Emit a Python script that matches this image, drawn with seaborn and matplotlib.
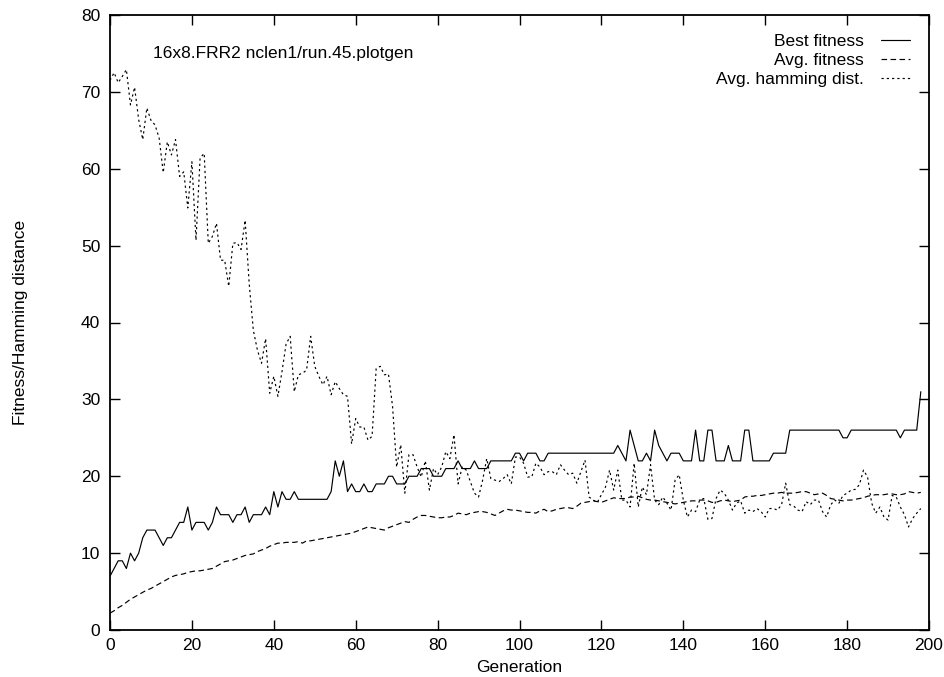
import numpy as np
import pandas as pd
import matplotlib
matplotlib.use("Agg")
import matplotlib.pyplot as plt
import seaborn as sns

# ---- data ----
generation = list(range(199))

best_fitness = [
    7, 8, 9, 9, 8, 10, 9, 10, 12, 13, 13, 13, 12, 11, 12, 12, 13, 14, 14, 16,
    13, 14, 14, 14, 13, 14, 16, 15, 15, 15, 14, 15, 15, 16, 14, 15, 15, 15, 16, 15,
    18, 16, 18, 17, 17, 18, 17, 17, 17, 17, 17, 17, 17, 17, 18, 22, 20, 22, 18, 19,
    18, 18, 19, 18, 18, 19, 19, 19, 20, 20, 19, 19, 19, 20, 20, 20, 21, 21, 21, 20,
    20, 20, 21, 21, 21, 22, 21, 21, 21, 22, 21, 21, 21, 22, 22, 22, 22, 22, 22, 23,
    23, 22, 23, 23, 23, 22, 22, 23, 23, 23, 23, 23, 23, 23, 23, 23, 23, 23, 23, 23,
    23, 23, 23, 23, 24, 23, 22, 26, 24, 22, 22, 23, 22, 26, 24, 23, 22, 23, 23, 23,
    22, 22, 22, 26, 22, 22, 26, 26, 22, 22, 22, 24, 22, 22, 22, 26, 26, 22, 22, 22,
    22, 22, 23, 23, 23, 23, 26, 26, 26, 26, 26, 26, 26, 26, 26, 26, 26, 26, 26, 25,
    25, 26, 26, 26, 26, 26, 26, 26, 26, 26, 26, 26, 26, 25, 26, 26, 26, 26, 31,
]

avg_fitness = [
    2.2, 2.5, 2.9, 3.2, 3.6, 4.0, 4.3, 4.6, 4.9, 5.2, 5.4, 5.7, 6.0, 6.3, 6.6, 6.9, 7.1, 7.2, 7.3, 7.5,
    7.6, 7.7, 7.7, 7.8, 7.9, 8.0, 8.3, 8.6, 8.9, 9.0, 9.1, 9.3, 9.5, 9.7, 9.8, 9.9, 10.2, 10.4, 10.6, 10.9,
    11.1, 11.3, 11.3, 11.4, 11.4, 11.4, 11.5, 11.3, 11.6, 11.6, 11.7, 11.8, 11.9, 12.0, 12.1, 12.2, 12.3, 12.4, 12.5, 12.6,
    12.8, 13.0, 13.2, 13.4, 13.3, 13.2, 13.1, 13.0, 13.3, 13.5, 13.7, 13.9, 14.1, 14.0, 14.4, 14.7, 14.9, 14.9, 14.8, 14.7,
    14.6, 14.6, 14.7, 14.7, 14.9, 15.2, 15.1, 15.0, 15.2, 15.3, 15.4, 15.4, 15.3, 15.1, 14.9, 15.2, 15.5, 15.7, 15.6, 15.6,
    15.5, 15.4, 15.3, 15.3, 15.2, 15.5, 15.7, 15.4, 15.5, 15.7, 15.8, 15.9, 15.9, 15.8, 16.1, 16.5, 16.6, 16.7, 16.8, 16.7,
    16.6, 16.8, 17.0, 17.2, 17.1, 17.1, 17.1, 17.3, 17.3, 17.4, 17.2, 17.0, 16.9, 16.9, 16.8, 16.7, 16.6, 16.5, 16.4, 16.5,
    16.6, 16.7, 16.8, 16.8, 16.9, 16.9, 16.8, 16.6, 16.6, 16.8, 16.9, 16.8, 16.7, 16.8, 16.9, 17.3, 17.4, 17.4, 17.5, 17.5,
    17.6, 17.7, 17.8, 17.8, 17.9, 17.8, 17.8, 17.8, 17.9, 18.0, 18.0, 17.8, 17.6, 17.7, 17.8, 17.5, 17.1, 17.0, 16.9, 16.8,
    16.9, 16.9, 17.0, 17.1, 17.2, 17.4, 17.5, 17.6, 17.6, 17.6, 17.7, 17.7, 17.6, 17.6, 17.7, 18.0, 17.9, 17.8, 17.9,
]

avg_hamming = [
    71.5, 72.5, 71.2, 72.0, 72.9, 68.3, 70.6, 66.4, 63.8, 67.9, 66.3, 65.7, 64.0, 59.5, 63.5, 61.8, 63.8, 59.0, 59.6, 54.9,
    60.9, 50.7, 61.4, 62.0, 50.3, 51.2, 52.9, 48.1, 48.1, 44.7, 50.3, 50.4, 49.5, 53.3, 45.0, 39.0, 36.4, 34.7, 37.9, 30.8,
    33.0, 30.4, 33.6, 37.2, 38.2, 31.0, 33.2, 33.4, 33.8, 38.2, 34.3, 33.0, 31.9, 33.0, 30.6, 32.3, 31.4, 30.6, 30.4, 24.2,
    27.5, 26.4, 26.4, 24.7, 25.2, 34.0, 34.3, 33.2, 33.3, 29.1, 21.2, 24.1, 17.8, 22.8, 22.8, 21.2, 19.9, 22.0, 18.2, 21.0,
    20.2, 21.2, 23.2, 22.3, 25.4, 19.0, 21.2, 20.8, 19.3, 17.8, 17.3, 19.5, 22.3, 19.7, 19.5, 19.3, 19.7, 20.2, 19.0, 22.5,
    22.5, 21.7, 19.9, 19.9, 21.7, 21.2, 20.2, 20.6, 20.6, 20.2, 21.5, 20.8, 20.2, 20.4, 19.1, 20.6, 22.1, 17.3, 16.9, 16.6,
    17.6, 18.6, 20.8, 18.2, 20.8, 16.9, 16.9, 16.0, 21.7, 16.0, 18.6, 17.6, 21.5, 16.9, 16.3, 17.3, 16.5, 15.6, 19.5, 20.2,
    16.9, 14.7, 15.6, 15.4, 16.9, 17.1, 14.4, 14.5, 17.1, 18.2, 17.8, 16.9, 15.6, 16.5, 16.8, 15.2, 15.6, 15.4, 15.8, 15.4,
    14.7, 15.8, 15.8, 15.6, 16.3, 19.1, 16.3, 16.1, 15.6, 15.4, 16.7, 16.3, 16.9, 16.9, 15.4, 14.7, 16.3, 16.9, 16.5, 17.5,
    17.8, 18.2, 18.3, 18.9, 20.8, 19.9, 16.5, 15.2, 16.0, 14.7, 14.3, 17.5, 17.3, 16.0, 15.0, 13.4, 14.5, 15.2, 15.8,
]

series_labels = ["Best fitness", "Avg. fitness", "Avg. hamming dist."]
x_ticks = [0, 20, 40, 60, 80, 100, 120, 140, 160, 180, 200]
y_ticks = [0, 10, 20, 30, 40, 50, 60, 70, 80]
title_text = "16x8.FRR2 nclen1/run.45.plotgen"

# ---- plotting ----
sns.set_theme(style="ticks")
plt.rcParams["font.family"] = ["Liberation Sans", "DejaVu Sans"]
plt.rcParams["lines.scale_dashes"] = False
for k in ["text.color", "axes.labelcolor", "xtick.color", "ytick.color",
          "xtick.labelcolor", "ytick.labelcolor", "axes.edgecolor"]:
    plt.rcParams[k] = "black"

FS = 12.5
fig = plt.figure(figsize=(9.45, 6.77), dpi=100)
ax = fig.add_axes([110 / 945, 1 - 630 / 677, (929 - 110) / 945, (630 - 15) / 677])

df = pd.DataFrame({
    "Generation": generation,
    series_labels[0]: best_fitness,
    series_labels[1]: avg_fitness,
    series_labels[2]: avg_hamming,
})

styles = ["-", (0, (4.0, 2.5)), (0, (1.6, 2.2))]
for lab, ls in zip(series_labels, styles):
    sns.lineplot(data=df, x="Generation", y=lab, ax=ax, color="black",
                 linewidth=0.85, linestyle=ls, label=lab)

ax.set_xlim(0, 200)
ax.set_ylim(0, 80)
ax.set_xticks(x_ticks)
ax.set_yticks(y_ticks)
ax.set_xticklabels([str(t) for t in x_ticks], fontsize=FS, color="black")
ax.set_yticklabels([str(t) for t in y_ticks], fontsize=FS, color="black")
ax.tick_params(direction="in", length=7, width=1.0, top=True, right=True,
               color="black", pad=7)
ax.tick_params(axis="x", pad=6)
for sp in ax.spines.values():
    sp.set_visible(True)
    sp.set_linewidth(1.3)
    sp.set_color("black")

ax.set_xlabel("Generation", fontsize=FS, labelpad=5, color="black")
ax.set_ylabel("Fitness/Hamming distance", fontsize=FS, labelpad=38, color="black")

ax.text(0.052, 0.937, title_text, transform=ax.transAxes, fontsize=FS,
        ha="left", va="center", color="black")

leg = ax.legend(loc="upper right", frameon=False, markerfirst=False,
                fontsize=FS, handlelength=1.65, handletextpad=1.0,
                labelspacing=0.22, borderaxespad=0.7,
                bbox_to_anchor=(1.0, 1.0))
for t in leg.get_texts():
    t.set_color("black")

fig.savefig("out.png", dpi=100, facecolor="white")
